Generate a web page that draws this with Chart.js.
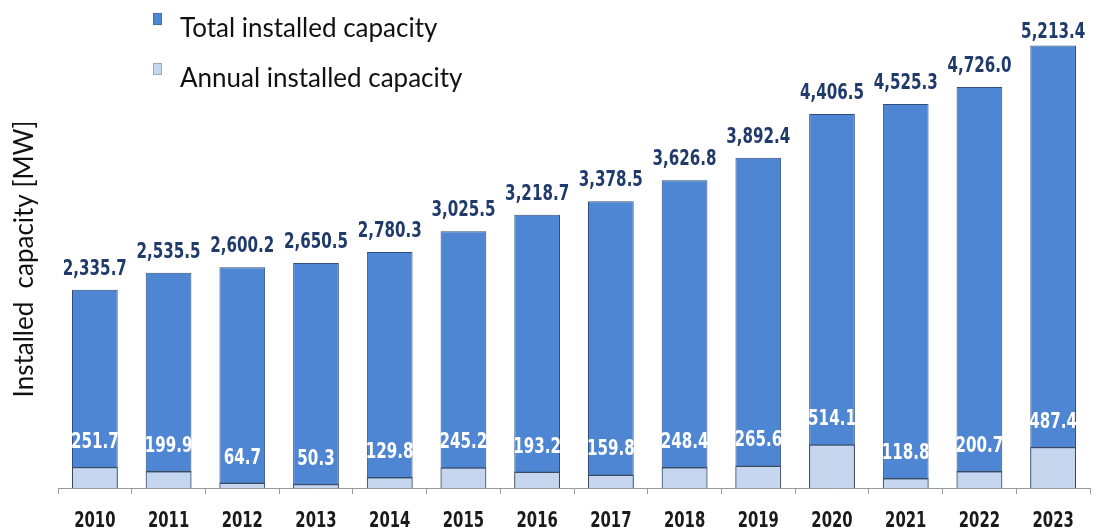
<!DOCTYPE html>
<html>
<head>
<meta charset="utf-8">
<script src="https://cdn.jsdelivr.net/npm/chart.js@4/dist/chart.umd.min.js"></script>
<style>
  html, body { margin: 0; padding: 0; background: #ffffff; overflow: hidden; }
  #wrap { width: 1099px; height: 529px; position: relative; }
</style>
</head>
<body>
<div id="wrap"><canvas id="cap" width="1099" height="529"></canvas></div>
<script>
// Installed capacity per year, in MW
const years = ['2010', '2011', '2012', '2013', '2014', '2015', '2016',
               '2017', '2018', '2019', '2020', '2021', '2022', '2023'];
const totalCapacity = [2335.7, 2535.5, 2600.2, 2650.5, 2780.3, 3025.5, 3218.7,
                       3378.5, 3626.8, 3892.4, 4406.5, 4525.3, 4726.0, 5213.4];
const annualCapacity = [251.7, 199.9, 64.7, 50.3, 129.8, 245.2, 193.2,
                        159.8, 248.4, 265.6, 514.1, 118.8, 200.7, 487.4];
const seriesNames = ['Total installed capacity', 'Annual installed capacity'];
const yTitle = 'Installed  capacity [MW]';

const NUM_FONT = '"DejaVu Sans Condensed", "DejaVu Sans", sans-serif';
const TEXT_FONT = 'Lato, "Open Sans", "Liberation Sans", sans-serif';

const fmt = v => v.toLocaleString('en-US', { minimumFractionDigits: 1, maximumFractionDigits: 1 });

// Draws a narrow (horizontally squeezed) bold number centred at x
function narrowText(ctx, text, x, y, size, color, squeeze) {
  ctx.save();
  ctx.translate(x, y);
  ctx.scale(squeeze, 1);
  ctx.font = 'bold ' + size + 'px ' + NUM_FONT;
  ctx.fillStyle = color;
  ctx.textAlign = 'center';
  ctx.fillText(text, 0, 0);
  ctx.restore();
}

// Value labels: totals above the tall bars, annual values just above the light bars
const valueLabels = {
  id: 'valueLabels',
  afterDatasetsDraw(chart) {
    const ctx = chart.ctx;
    ctx.save();
    ctx.textBaseline = 'alphabetic';
    chart.data.datasets.forEach((ds, di) => {
      const meta = chart.getDatasetMeta(di);
      meta.data.forEach((bar, i) => {
        const v = ds.data[i];
        if (di === 0) {
          narrowText(ctx, fmt(v), bar.x, Math.max(bar.y - 15, 38), 21, '#1f3a6b', 0.8);
        } else {
          narrowText(ctx, fmt(v), bar.x, bar.y - 19, 21, '#ffffff', 0.8);
        }
      });
    });
    // year labels under the axis
    const xs = chart.scales.x;
    chart.data.labels.forEach((lab, i) => {
      narrowText(ctx, lab, xs.getPixelForValue(i), 527, 22, '#1a1a1a', 0.75);
    });
    ctx.restore();
  }
};

// Vertical legend in the upper left and the rotated y-axis title
const sideText = {
  id: 'sideText',
  afterDraw(chart) {
    const ctx = chart.ctx;
    ctx.save();
    const ds = chart.data.datasets;
    const baselines = [37, 87];
    ctx.font = '26px ' + TEXT_FONT;
    ctx.textBaseline = 'alphabetic';
    ctx.textAlign = 'left';
    ds.forEach((d, i) => {
      const y = baselines[i];
      ctx.fillStyle = d.backgroundColor;
      ctx.strokeStyle = i === 0 ? '#3f6fb0' : '#9aaac0';
      ctx.lineWidth = 1;
      ctx.fillRect(153, y - 24, 9, 12);
      ctx.strokeRect(153.5, y - 23.5, 8, 11);
      ctx.fillStyle = '#111111';
      ctx.fillText(seriesNames[i], 180, y);
    });
    ctx.translate(33, 259);
    ctx.rotate(-Math.PI / 2);
    ctx.textAlign = 'center';
    ctx.font = '26px ' + TEXT_FONT;
    ctx.fillStyle = '#111111';
    ctx.fillText(yTitle, 0, 0);
    ctx.restore();
  }
};

new Chart(document.getElementById('cap'), {
  type: 'bar',
  data: {
    labels: years,
    datasets: [
      {
        label: seriesNames[0],
        data: totalCapacity,
        backgroundColor: '#4f86d4',
        borderColor: '#2f4f7a',
        borderWidth: 1,
        grouped: false,
        order: 2,
        barPercentage: 1.0,
        categoryPercentage: 0.62
      },
      {
        label: seriesNames[1],
        data: annualCapacity,
        backgroundColor: '#c6d6ee',
        borderColor: '#3b4a5e',
        borderWidth: { top: 1.5, left: 1, right: 1, bottom: 0 },
        grouped: false,
        order: 1,
        barPercentage: 1.0,
        categoryPercentage: 0.62
      }
    ]
  },
  options: {
    responsive: false,
    animation: false,
    devicePixelRatio: 1,
    layout: { padding: { left: 58, right: 9, top: 0, bottom: 0 } },
    plugins: { legend: { display: false }, tooltip: { enabled: false } },
    scales: {
      x: {
        afterFit(scale) { scale.height = 41; },
        border: { display: true, color: '#9a9a9a', width: 1 },
        grid: { display: true, drawOnChartArea: false, drawTicks: true, tickLength: 6, color: '#9a9a9a', offset: true },
        ticks: { display: false }
      },
      y: {
        display: false,
        min: 0,
        max: 5750
      }
    }
  },
  plugins: [valueLabels, sideText]
});
</script>
</body>
</html>
